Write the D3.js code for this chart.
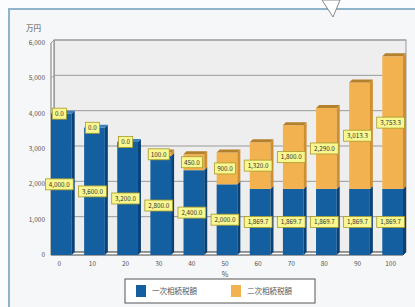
<!DOCTYPE html>
<html>
<head>
<meta charset="utf-8">
<script src="https://cdn.jsdelivr.net/npm/d3@7"></script>
<style>
body { margin: 0; background: #fff; }
text { font-family: "Noto Sans CJK JP", "Noto Sans", sans-serif; }
</style>
</head>
<body>
<svg id="chart" width="415" height="307"></svg>
<script>
var categories = ["0", "10", "20", "30", "40", "50", "60", "70", "80", "90", "100"];
var primary = [4000, 3600, 3200, 2800, 2400, 2000, 1869.7, 1869.7, 1869.7, 1869.7, 1869.7];
var secondary = [0, 0, 0, 100, 450, 900, 1320, 1800, 2290, 3013.3, 3753.3];
var yTicks = [0, 1000, 2000, 3000, 4000, 5000, 6000];
var seriesNames = ["一次相続税額", "二次相続税額"];

var svg = d3.select("#chart");
var fmt = d3.format(",.1f");
var dx = 3, dy = -3;

// page background with faint grid
svg.append("rect").attr("width", 415).attr("height", 307).attr("fill", "#fbfcfd");
// outer panel
svg.append("rect").attr("x", 9).attr("y", 9).attr("width", 420).attr("height", 310)
   .attr("fill", "#f5f7f8").attr("stroke", "#8fb3c9").attr("stroke-width", 2);
// pointer at top
svg.append("path").attr("d", "M322,0 L340,0 L333,17 Z").attr("fill", "#fff").attr("stroke", "#888");

var x = d3.scaleBand().domain(categories).range([51, 403]).paddingInner(0.375).paddingOuter(0);
var y = d3.scaleLinear().domain([0, 6000]).range([255, 43]);

// plot wall
svg.append("rect").attr("x", 51 + dx).attr("y", y(6000) + dy)
   .attr("width", 352).attr("height", y(0) - y(6000))
   .attr("fill", "#eeeeee").attr("stroke", "#999");
// left wall
svg.append("path")
   .attr("d", "M51," + y(6000) + " L" + (51 + dx) + "," + (y(6000) + dy) + " L" + (51 + dx) + "," + (y(0) + dy) + " L51," + y(0) + " Z")
   .attr("fill", "#fafafa").attr("stroke", "#777");
// floor
svg.append("path")
   .attr("d", "M51," + y(0) + " L" + (51 + dx) + "," + (y(0) + dy) + " L" + (403 + dx) + "," + (y(0) + dy) + " L403," + y(0) + " Z")
   .attr("fill", "#ffffff").attr("stroke", "#444");

// gridlines
svg.selectAll(".grid").data(yTicks).enter().append("path")
   .attr("class", "grid")
   .attr("d", function(d) { return "M51," + y(d) + " L" + (51 + dx) + "," + (y(d) + dy) + " L" + (403 + dx) + "," + (y(d) + dy); })
   .attr("fill", "none").attr("stroke", "#999").attr("stroke-width", 1);

// y axis labels
svg.selectAll(".ytick").data(yTicks).enter().append("text")
   .attr("x", 45).attr("y", function(d) { return y(d) + 2; })
   .attr("text-anchor", "end").attr("font-size", 6.5).attr("fill", "#555")
   .text(function(d) { return d3.format(",")(d); });
svg.append("text").attr("x", 26).attr("y", 31).attr("font-size", 7.5).attr("fill", "#555").text("万円");

var colors = [
  { front: "#135f9f", side: "#0b4275", top: "#3a82bf" },
  { front: "#f2b24f", side: "#cf8f2f", top: "#b5802c" }
];

function drawSegment(i, lo, hi, c) {
  var x0 = x(categories[i]), w = x.bandwidth();
  var yt = y(hi), yb = y(lo);
  var g = svg.append("g");
  g.append("rect").attr("x", x0).attr("y", yt).attr("width", w).attr("height", yb - yt).attr("fill", c.front);
  g.append("path")
   .attr("d", "M" + (x0 + w) + "," + yb + " L" + (x0 + w + dx) + "," + (yb + dy) + " L" + (x0 + w + dx) + "," + (yt + dy) + " L" + (x0 + w) + "," + yt + " Z")
   .attr("fill", c.side);
  return { x0: x0, w: w, yt: yt };
}

function drawTop(s, c) {
  svg.append("path")
   .attr("d", "M" + s.x0 + "," + s.yt + " L" + (s.x0 + dx) + "," + (s.yt + dy) + " L" + (s.x0 + s.w + dx) + "," + (s.yt + dy) + " L" + (s.x0 + s.w) + "," + s.yt + " Z")
   .attr("fill", c.top);
}

categories.forEach(function(cat, i) {
  var s1 = drawSegment(i, 0, primary[i], colors[0]);
  if (secondary[i] > 0) {
    var s2 = drawSegment(i, primary[i], primary[i] + secondary[i], colors[1]);
    drawTop(s2, colors[1]);
  } else {
    drawTop(s1, colors[0]);
  }
});

// value labels
function label(cx, cy, v) {
  var t = fmt(v);
  var w = t.length * 3.4 + 4;
  svg.append("rect").attr("x", cx - w / 2).attr("y", cy - 5.5).attr("width", w).attr("height", 11)
     .attr("fill", "#f9f78f").attr("stroke", "#a99b2a").attr("stroke-width", 0.8);
  svg.append("text").attr("x", cx).attr("y", cy + 2.3).attr("text-anchor", "middle")
     .attr("font-size", 6.3).attr("fill", "#333").text(t);
}
categories.forEach(function(cat, i) {
  var cx = x(cat) + x.bandwidth() / 2 - 2;
  label(cx, y(primary[i] / 2), primary[i]);
  label(cx, y(primary[i] + secondary[i] / 2), secondary[i]);
});

// x axis labels
svg.selectAll(".xtick").data(categories).enter().append("text")
   .attr("x", function(d) { return x(d) + x.bandwidth() / 2 - 2; }).attr("y", 266)
   .attr("text-anchor", "middle").attr("font-size", 6.5).attr("fill", "#555")
   .text(function(d) { return d; });
svg.append("text").attr("x", 225).attr("y", 277).attr("text-anchor", "middle")
   .attr("font-size", 7).attr("fill", "#555").text("%");

// legend
svg.append("rect").attr("x", 125).attr("y", 279).attr("width", 190).attr("height", 24)
   .attr("fill", "#fff").attr("stroke", "#555").attr("stroke-width", 1);
var lg = svg.selectAll(".leg").data(seriesNames).enter().append("g")
   .attr("transform", function(d, i) { return "translate(" + (136 + i * 95) + ",285)"; });
lg.append("rect").attr("width", 10).attr("height", 12)
   .attr("fill", function(d, i) { return colors[i].front; });
lg.append("text").attr("x", 16).attr("y", 9).attr("font-size", 7.5).attr("fill", "#555")
   .text(function(d) { return d; });
</script>
</body>
</html>
